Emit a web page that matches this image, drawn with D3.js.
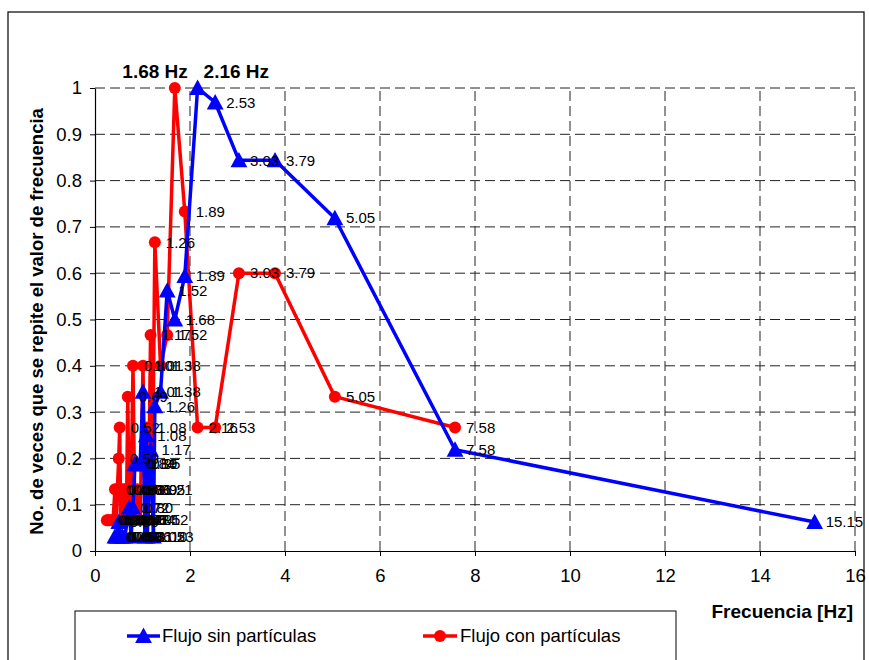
<!DOCTYPE html>
<html>
<head>
<meta charset="utf-8">
<script src="https://cdn.jsdelivr.net/npm/d3@7"></script>
<style>
  body { margin: 0; background: #fff; }
  svg { display: block; font-family: "Liberation Sans", Arial, sans-serif; }
</style>
</head>
<body>
<svg id="chart" width="869" height="660"></svg>
<script>
// ---- data ----
const blueFreq  = [0.42,0.45,0.48,0.50,0.54,0.58,0.63,0.72,0.76,0.80,0.84,0.89,0.95,1.01,1.05,1.08,1.10,1.17,1.23,1.26,1.38,1.52,1.68,1.89,2.16,2.53,3.03,3.79,5.05,7.58,15.15];
const blueCount = [1,1,1,2,1,1,1,3,1,3,6,6,6,11,1,8,1,7,1,10,11,18,16,19,32,31,27,27,23,7,2];
const blueTotal = 32;

const redFreq  = [0.25,0.27,0.30,0.34,0.38,0.42,0.45,0.47,0.50,0.52,0.54,0.58,0.61,0.63,0.66,0.69,0.72,0.76,0.80,0.84,0.89,0.95,1.01,1.05,1.08,1.12,1.17,1.21,1.26,1.38,1.52,1.68,1.89,2.16,2.53,3.03,3.79,5.05,7.58];
const redCount = [1,1,1,1,1,2,1,2,3,4,1,2,1,2,1,5,1,2,6,1,2,1,6,2,4,1,7,2,10,6,7,15,11,4,4,9,9,5,4];
const redTotal = 15;

const xTicks = [0,2,4,6,8,10,12,14,16];
const yTicks = [0,0.1,0.2,0.3,0.4,0.5,0.6,0.7,0.8,0.9,1];
const seriesNames = ["Flujo sin partículas", "Flujo con partículas"];
const peakLabels = ["1.68 Hz", "2.16 Hz"];
const peakFreqs = [1.68, 2.16];

const blue = blueFreq.map((f,i)=>({x:f, y:blueCount[i]/blueTotal}));
const red  = redFreq.map((f,i)=>({x:f, y:redCount[i]/redTotal}));

// ---- layout ----
const svg = d3.select("#chart");
const X0 = 95, X1 = 855, Y0 = 551, Y1 = 88;
const x = d3.scaleLinear().domain([0,16]).range([X0,X1]);
const y = d3.scaleLinear().domain([0,1]).range([Y0,Y1]);
const FONT = "Liberation Sans, Arial, sans-serif";

// outer border
svg.append("rect").attr("x",8).attr("y",12).attr("width",856).attr("height",700)
  .attr("fill","none").attr("stroke","#000").attr("stroke-width",1.2);

// gridlines
const grid = svg.append("g");
grid.selectAll(".vg").data(xTicks.filter(d=>d>0)).join("line")
  .attr("x1",d=>x(d)).attr("x2",d=>x(d)).attr("y1",Y0).attr("y2",Y1)
  .attr("stroke","#222").attr("stroke-dasharray","10,5").attr("stroke-width",1);
grid.selectAll(".hg").data(yTicks.filter(d=>d>0)).join("line")
  .attr("x1",X0).attr("x2",X1).attr("y1",d=>y(d)).attr("y2",d=>y(d))
  .attr("stroke","#222").attr("stroke-dasharray","10,5").attr("stroke-width",1);

// axes
const xAxis = d3.axisBottom(x).tickValues(xTicks).tickFormat(d3.format("d")).tickSizeInner(5).tickSizeOuter(0).tickPadding(13);
const gx = svg.append("g").attr("transform",`translate(0,${Y0})`).call(xAxis);
gx.select(".domain").attr("stroke","#000").attr("stroke-width",1.2);
gx.selectAll(".tick line").attr("stroke","#000");
gx.selectAll("text").attr("font-size",18.5).attr("fill","#000").attr("font-family",FONT);

const yAxis = d3.axisLeft(y).tickValues(yTicks).tickFormat(d=>d3.format("")(+d.toFixed(1))).tickSizeInner(5).tickSizeOuter(0).tickPadding(8);
const gy = svg.append("g").attr("transform",`translate(${X0},0)`).call(yAxis);
gy.select(".domain").attr("stroke","#000").attr("stroke-width",1.2);
gy.selectAll(".tick line").attr("stroke","#000");
gy.selectAll("text").attr("font-size",18.5).attr("fill","#000").attr("font-family",FONT);

// axis titles
svg.append("text").attr("x",853).attr("y",618).attr("text-anchor","end")
  .attr("font-size",19).attr("font-weight","bold").text("Frecuencia [Hz]");
svg.append("text").attr("transform",`translate(43,${(Y0+Y1)/2+2}) rotate(-90)`).attr("text-anchor","middle")
  .attr("font-size",18.5).attr("font-weight","bold").text("No. de veces que se repite el valor de frecuencia");

// series
const line = d3.line().x(d=>x(d.x)).y(d=>y(d.y));
function triangle(g, cx, cy, s) {
  g.append("path").attr("d",`M${cx},${cy-s*0.6}L${cx+s*0.6},${cy+s*0.5}L${cx-s*0.6},${cy+s*0.5}Z`).attr("fill","#0000ff");
}

const gRed = svg.append("g");
gRed.append("path").datum(red).attr("d",line).attr("fill","none").attr("stroke","#ff0000").attr("stroke-width",3.5).attr("stroke-linejoin","round");
gRed.selectAll("circle").data(red).join("circle").attr("cx",d=>x(d.x)).attr("cy",d=>y(d.y)).attr("r",6).attr("fill","#ff0000");

const gBlue = svg.append("g");
gBlue.append("path").datum(blue).attr("d",line).attr("fill","none").attr("stroke","#0000ff").attr("stroke-width",3.5).attr("stroke-linejoin","round");
blue.forEach(d=>triangle(gBlue, x(d.x), y(d.y), 14));

// data labels
const fmt = d3.format(".2f");
const labels = svg.append("g").attr("font-size",15).attr("fill","#000");
labels.selectAll(".rl").data(red.filter(d=>d.x!==peakFreqs[0])).join("text")
  .attr("x",d=>x(d.x)+11).attr("y",d=>y(d.y)).attr("dy","0.35em").text(d=>fmt(d.x));
labels.selectAll(".bl").data(blue.filter(d=>d.x!==peakFreqs[1])).join("text")
  .attr("x",d=>x(d.x)+11).attr("y",d=>y(d.y)).attr("dy","0.35em").text(d=>fmt(d.x));

// peak labels
svg.append("text").attr("x",x(peakFreqs[0])+13).attr("y",y(1)-10).attr("text-anchor","end")
  .attr("font-size",19).attr("font-weight","bold").text(peakLabels[0]);
svg.append("text").attr("x",x(peakFreqs[1])+6).attr("y",y(1)-10).attr("text-anchor","start")
  .attr("font-size",19).attr("font-weight","bold").text(peakLabels[1]);

// legend
const lg = svg.append("g");
lg.append("rect").attr("x",75).attr("y",611).attr("width",601).attr("height",70)
  .attr("fill","#fff").attr("stroke","#000").attr("stroke-width",1);
const ly = 636;
lg.append("line").attr("x1",127).attr("x2",160).attr("y1",ly).attr("y2",ly).attr("stroke","#0000ff").attr("stroke-width",3.5);
triangle(lg, 143.5, ly, 14);
lg.append("text").attr("x",162).attr("y",ly).attr("dy","0.35em").attr("font-size",18.5).text(seriesNames[0]);
lg.append("line").attr("x1",423).attr("x2",457).attr("y1",ly).attr("y2",ly).attr("stroke","#ff0000").attr("stroke-width",3.5);
lg.append("circle").attr("cx",440).attr("cy",ly).attr("r",6).attr("fill","#ff0000");
lg.append("text").attr("x",460).attr("y",ly).attr("dy","0.35em").attr("font-size",18.5).text(seriesNames[1]);
</script>
</body>
</html>
